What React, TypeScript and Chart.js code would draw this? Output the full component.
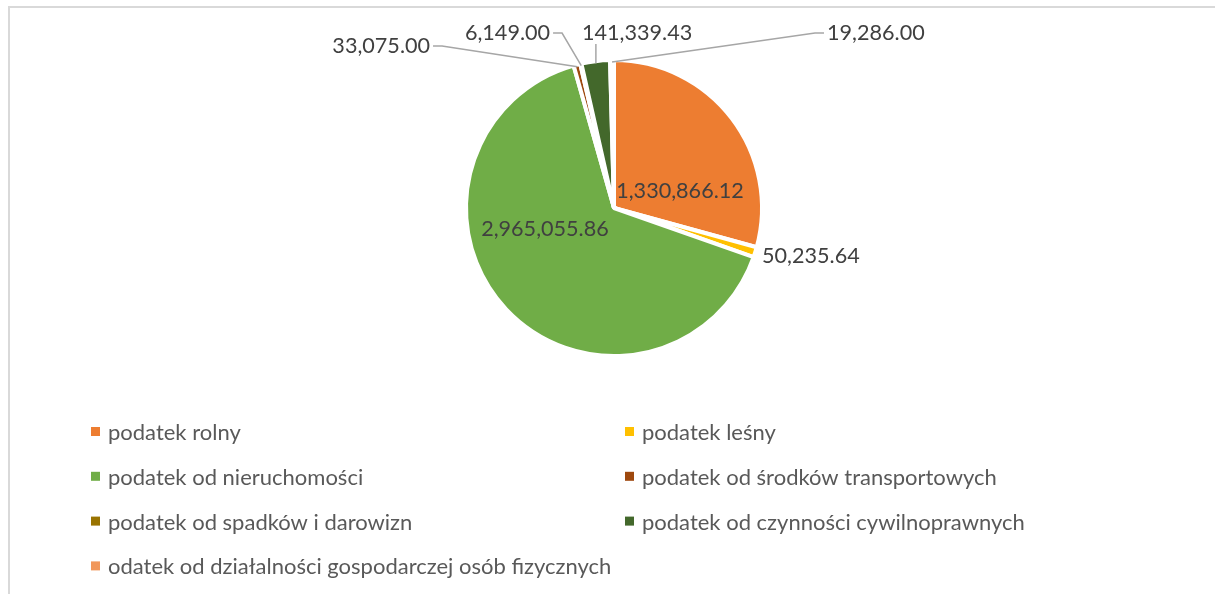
import React, { useEffect, useRef } from "react";
import { Chart, registerables } from "chart.js";

Chart.register(...registerables);

// ---- data ----
const categories = [
  "podatek rolny",
  "podatek leśny",
  "podatek od nieruchomości",
  "podatek od środków transportowych",
  "podatek od spadków i darowizn",
  "podatek od czynności cywilnoprawnych",
  "odatek od działalności gospodarczej osób fizycznych",
];
const values = [1330866.12, 50235.64, 2965055.86, 33075.0, 6149.0, 141339.43, 19286.0];
const colors = ["#ED7D31", "#FFC000", "#70AD47", "#9E480E", "#997300", "#43682B", "#F1975A"];

// ---- label layout (in units of the pie radius, relative to the pie centre) ----
const labelLayout = [
  { x: 0.452, y: -0.123, align: "center", leader: false },
  { x: 1.014, y: 0.322, align: "left", leader: false },
  { x: -0.473, y: 0.137, align: "center", leader: false },
  { x: -1.26, y: -1.116, align: "right", leader: true },
  { x: -0.438, y: -1.205, align: "right", leader: true },
  { x: -0.219, y: -1.205, align: "left", leader: true },
  { x: 1.459, y: -1.205, align: "left", leader: true },
];

const FONT = "Lato, 'Noto Sans', sans-serif";
const LABEL_SIZE = 21.6;
const LEGEND_SIZE = 22;
const BORDER_W = 4;

const legendLayout = { colX: [91, 625], rowY0: 431.5, rowStep: 44.8, box: 9, gap: 8 };

const fmt = (v: number) =>
  v.toLocaleString("en-US", { minimumFractionDigits: 2, maximumFractionDigits: 2 });

const labelsPlugin = {
  id: "excelLabels",
  afterDatasetsDraw(chart: any) {
    const ctx = chart.ctx;
    const meta = chart.getDatasetMeta(0);
    ctx.save();
    ctx.font = `${LABEL_SIZE}px ${FONT}`;
    ctx.textBaseline = "middle";
    meta.data.forEach((arc: any, i: number) => {
      const p = arc.getProps(["x", "y", "startAngle", "endAngle", "outerRadius"], true);
      const r = p.outerRadius - BORDER_W / 2;
      const mid = (p.startAngle + p.endAngle) / 2;
      const ax = p.x + Math.cos(mid) * r;
      const ay = p.y + Math.sin(mid) * r;
      const L = labelLayout[i];
      const tx = p.x + L.x * r;
      const ty = p.y + L.y * r;
      const text = fmt(values[i]);
      const w = ctx.measureText(text).width;
      const left = L.align === "left" ? tx : L.align === "right" ? tx - w : tx - w / 2;
      ctx.fillStyle = "#404040";
      ctx.textAlign = "left";
      ctx.fillText(text, left, ty + 1);
      if (L.leader) {
        const bl = left - 3;
        const br = left + w + 3;
        const bb = ty + 12;
        ctx.strokeStyle = "#A6A6A6";
        ctx.lineWidth = 1.5;
        ctx.beginPath();
        if (ax < bl) {
          ctx.moveTo(bl, ty + 1);
          ctx.lineTo(bl - 9, ty + 1);
        } else if (ax > br) {
          ctx.moveTo(br, ty + 1);
          ctx.lineTo(br + 9, ty + 1);
        } else {
          ctx.moveTo(ax, bb);
        }
        ctx.lineTo(ax, ay);
        ctx.stroke();
      }
    });
    ctx.restore();
  },
  afterDraw(chart: any) {
    const ctx = chart.ctx;
    const ds = chart.data.datasets[0];
    ctx.save();
    ctx.font = `${LEGEND_SIZE}px ${FONT}`;
    ctx.textBaseline = "middle";
    ctx.textAlign = "left";
    chart.data.labels.forEach((lab: string, i: number) => {
      const col = i % 2;
      const row = Math.floor(i / 2);
      const x = legendLayout.colX[col];
      const y = legendLayout.rowY0 + row * legendLayout.rowStep;
      ctx.fillStyle = ds.backgroundColor[i];
      ctx.fillRect(x, y - legendLayout.box / 2, legendLayout.box, legendLayout.box);
      ctx.fillStyle = "#595959";
      ctx.fillText(lab, x + legendLayout.box + legendLayout.gap, y + 1.5);
    });
    ctx.restore();
  },
};

export default function App() {
  const ref = useRef<HTMLCanvasElement | null>(null);
  useEffect(() => {
    if (!ref.current) return;
    const chart = new Chart(ref.current, {
      type: "pie",
      data: {
        labels: categories,
        datasets: [
          {
            data: values,
            backgroundColor: colors,
            borderColor: "#FFFFFF",
            borderWidth: BORDER_W,
          },
        ],
      },
      options: {
        responsive: false,
        animation: false,
        layout: { padding: { top: 58, bottom: 236, left: 13, right: 0 } },
        plugins: {
          legend: { display: false },
          tooltip: { enabled: false },
          title: { display: false },
        },
      },
      plugins: [labelsPlugin],
    });
    return () => chart.destroy();
  }, []);

  return (
    <div style={{ position: "absolute", left: 0, top: 0, width: 1215, height: 594, background: "#fff", overflow: "hidden" }}>
      <div
        style={{
          position: "absolute",
          left: 8,
          top: 6,
          right: 0,
          bottom: 0,
          borderTop: "2px solid #D9D9D9",
          borderLeft: "2px solid #D9D9D9",
        }}
      />
      <canvas ref={ref} width={1215} height={594} style={{ position: "absolute", left: 0, top: 0 }} />
    </div>
  );
}
